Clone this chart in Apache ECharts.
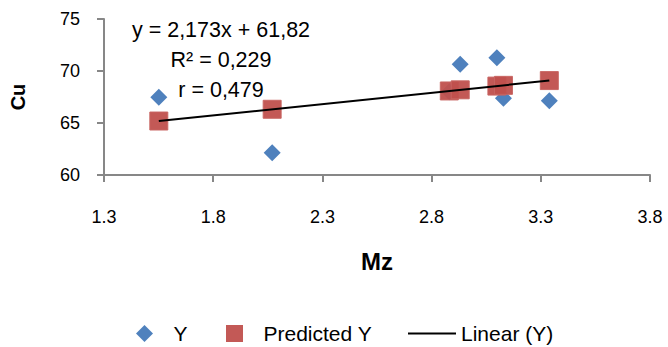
<!DOCTYPE html>
<html>
<head>
<meta charset="utf-8">
<script src="https://cdn.jsdelivr.net/npm/echarts@6/dist/echarts.min.js"></script>
<style>html,body{margin:0;padding:0;background:#fff}#c{width:668px;height:347px}</style>
</head>
<body>
<div id="c"></div>
<script>
// Data
var mz = [1.551, 2.07, 2.881, 2.931, 3.099, 3.129, 3.339];
var cuY = [67.47, 62.14, 68.0, 70.64, 71.28, 67.38, 67.14];
var cuPredicted = [65.19, 66.32, 68.08, 68.19, 68.55, 68.62, 69.08];
var trendX = [1.551, 3.339];
var trendY = [65.19, 69.08];
var xTicks = [1.3, 1.8, 2.3, 2.8, 3.3, 3.8];
var yTicks = [60, 65, 70, 75];
var seriesNames = ['Y', 'Predicted Y', 'Linear (Y)'];
var equationLines = ['y = 2,173x + 61,82', 'R\u00b2 = 0,229', 'r = 0,479'];
var xTitle = 'Mz';
var yTitle = 'Cu';

function pairs(xs, ys) { return xs.map(function (x, i) { return [x, ys[i]]; }); }

var FONT = '"Liberation Sans", Arial, sans-serif';
var AXIS_COLOR = '#878787';
var BLUE = '#4F81BD', RED = '#C0504D';

var legendIcons = [
  'path://M8,0 L16,8 L8,16 L0,8 Z',
  'path://M0,0 L16,0 L16,16 L0,16 Z',
  'path://M0,0 L48,0 L48,2 L0,2 Z'
];
var legendColors = [BLUE, RED, '#000'];
var legendLefts = [136, 226, 408];

var chart = echarts.init(document.getElementById('c'), null, { renderer: 'svg' });
chart.setOption({
  animation: false,
  backgroundColor: '#fff',
  textStyle: { fontFamily: FONT, color: '#000' },
  grid: { left: 103, top: 19, right: 18, bottom: 172, containLabel: false },
  xAxis: {
    type: 'value',
    min: xTicks[0], max: xTicks[xTicks.length - 1],
    name: xTitle, nameLocation: 'middle', nameGap: 74,
    nameTextStyle: { fontFamily: FONT, fontSize: 24, fontWeight: 'bold', color: '#000' },
    axisLine: { show: true, lineStyle: { color: AXIS_COLOR, width: 2 } },
    axisTick: { show: true, length: 7, lineStyle: { color: AXIS_COLOR, width: 2 }, customValues: xTicks },
    axisLabel: { fontFamily: FONT, fontSize: 18, color: '#000', margin: 33, customValues: xTicks,
      formatter: function (v) { return Number(v).toFixed(1); } },
    splitLine: { show: false }
  },
  yAxis: {
    type: 'value',
    min: yTicks[0], max: yTicks[yTicks.length - 1], interval: 5,
    name: yTitle, nameLocation: 'middle', nameGap: 76,
    nameTextStyle: { fontFamily: FONT, fontSize: 20, fontWeight: 'bold', color: '#000' },
    axisLine: { show: true, lineStyle: { color: AXIS_COLOR, width: 2 } },
    axisTick: { show: true, length: 7, lineStyle: { color: AXIS_COLOR, width: 2 } },
    axisLabel: { fontFamily: FONT, fontSize: 18, color: '#000', margin: 24 },
    splitLine: { show: false }
  },
  legend: seriesNames.map(function (n, i) {
    return {
      top: 323, left: legendLefts[i], padding: 0,
      itemWidth: 48, itemHeight: 17, itemGap: 0,
      symbolKeepAspect: true,
      textStyle: { fontFamily: FONT, fontSize: 21, color: '#000' },
      data: [{ name: n, icon: legendIcons[i], itemStyle: { color: legendColors[i], borderWidth: 0 } }]
    };
  }),
  graphic: equationLines.map(function (t, i) {
    return {
      type: 'text', x: 221, y: 30 + i * 30, z: 100,
      style: { text: t, fontFamily: FONT, fontSize: 21.5, fill: '#000', align: 'center', verticalAlign: 'middle' }
    };
  }),
  series: [
    {
      name: seriesNames[0], type: 'scatter', symbol: 'diamond', symbolSize: 17, z: 2,
      itemStyle: { color: BLUE, opacity: 1 },
      data: pairs(mz, cuY)
    },
    {
      name: seriesNames[1], type: 'scatter', symbol: 'rect', symbolSize: 18, z: 3,
      itemStyle: { color: RED, opacity: 0.95, borderColor: '#C86562', borderWidth: 1 },
      data: pairs(mz, cuPredicted)
    },
    {
      name: seriesNames[2], type: 'line', symbol: 'none', showSymbol: false, z: 4,
      lineStyle: { color: '#000', width: 2 },
      itemStyle: { color: '#000' },
      data: pairs(trendX, trendY)
    }
  ]
});
</script>
</body>
</html>
